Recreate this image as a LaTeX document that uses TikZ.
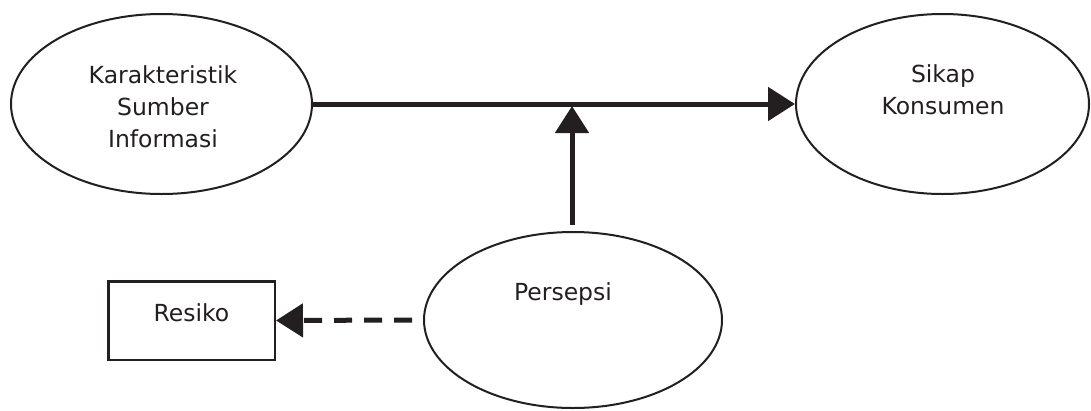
\documentclass[tikz,border=0pt]{standalone}
\usepackage{fontspec}
\setmainfont{DejaVu Sans}
\usetikzlibrary{shapes.geometric,arrows.meta}
\definecolor{ink}{HTML}{231F20}
\begin{document}
\begin{tikzpicture}[x=1pt,y=-1pt,
  ell/.style={draw=ink,line width=2pt,ellipse,inner sep=0pt},
  box/.style={draw=ink,line width=2.5pt,rectangle,inner sep=0pt},
  lbl/.style={text=ink,font=\fontsize{23.5}{32}\selectfont,align=center,anchor=base,inner sep=0pt},
  conn/.style={draw=ink,line width=5pt,-{Triangle[length=27pt,width=33pt]}},
]
\useasboundingbox (0,0) rectangle (1091,410);
\node[ell,minimum width=301pt,minimum height=180pt] (ksi) at (161.5,104) {};
\node[ell,minimum width=293pt,minimum height=180pt] (sk) at (942.5,104) {};
\node[ell,minimum width=298pt,minimum height=176pt] (per) at (573,320) {};
\node[box,minimum width=166.5pt,minimum height=78.5pt] (res) at (191.5,320.5) {};
\node[lbl] (tksi) at (163,147) {Karakteristik\\Sumber\\Informasi};
\node[lbl] (tsk) at (943,114) {Sikap\\Konsumen};
\node[lbl] (tper) at (563,300) {Persepsi};
\node[lbl] (tres) at (191.5,321) {Resiko};
\coordinate (vb) at (572,225);
\coordinate (vt) at (572,106);
\coordinate (ds) at (412,320);
\draw[conn] (ksi.east) -- (sk.west);
\draw[conn] (vb) -- (vt);
\draw[conn,dash pattern=on 18pt off 12pt] (ds) -- (res.east);
\end{tikzpicture}
\end{document}
